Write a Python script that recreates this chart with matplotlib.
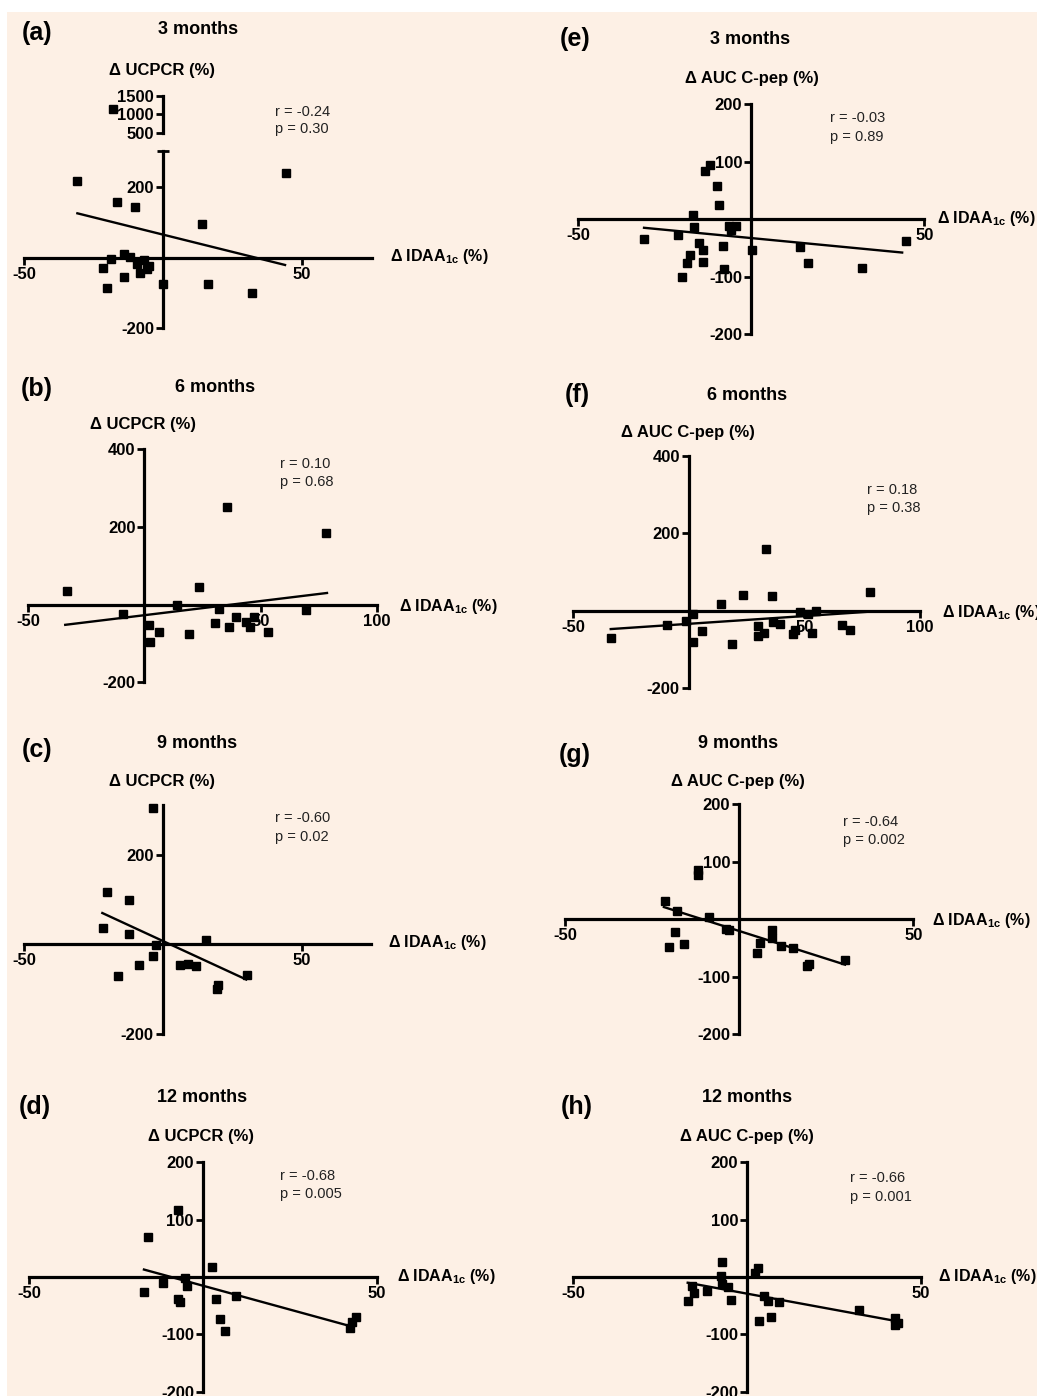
import matplotlib
matplotlib.use('Agg')
import matplotlib.pyplot as plt
from matplotlib.patches import Rectangle
from matplotlib.ticker import FixedLocator

W, H = 1037, 1396
BG = '#FDF0E5'

plt.rcParams['font.family'] = ['Liberation Sans', 'DejaVu Sans']
plt.rcParams['axes.unicode_minus'] = False
plt.rcParams['mathtext.fontset'] = 'custom'
plt.rcParams['mathtext.rm'] = 'Liberation Sans:bold'
plt.rcParams['mathtext.it'] = 'Liberation Sans:bold'
plt.rcParams['mathtext.bf'] = 'Liberation Sans:bold'

# ---------------- data ----------------
# (a) 3 months, UCPCR
a_x = [-30.8, 44.2, -16.4, -10.2, 14.0, -21.5, -18.7, -14.0, -11.9, -9.2, -6.8, -4.9,
       -8.3, -5.9, -14.0, -20.0, -0.1, 16.3, 32.1, -18.0]
a_y = [215, 238, 156, 143, 96, -30, -4, 9, 1, -18, -7, -23,
       -45, -32, -56, -87, -75, -75, -101, 1150]
a_fit_x = [-30.8, 43.9]
a_fit_y = [125, -21]
a_stats = ['r = -0.24', 'p = 0.30']

# (e) 3 months, AUC C-pep
e_x = [-30.9, -21.3, -16.8, -16.5, -15.1, -14.1, -17.7, -18.7, -19.9, -13.9, -13.4, -11.9,
       -10.0, -9.2, -8.3, -7.9, -6.5, -5.8, -4.4, 0.1, 14.1, 16.5, 31.9, 44.6]
e_y = [-35, -27, 7, -13, -42, -54, -62, -77, -100, -74, 84, 94,
       57, 25, -46, -86, -12, -19, -12, -53, -48, -77, -84, -38]
e_fit_x = [-31.0, 43.6]
e_fit_y = [-15, -58]
e_stats = ['r = -0.03', 'p = 0.89']

# (b) 6 months, UCPCR
b_x = [-33.4, -9.3, 1.8, 2.2, 6.1, 14.0, 19.0, 23.6, 30.5, 32.3, 35.5, 36.2,
       39.4, 43.8, 45.3, 47.0, 53.2, 69.5, 78.3]
b_y = [34, -23, -52, -95, -70, -2, -75, 46, -47, -10, 251, -58,
       -32, -45, -58, -32, -70, -13, 184]
b_fit_x = [-34.1, 78.6]
b_fit_y = [-52, 30]
b_stats = ['r = 0.10', 'p = 0.68']

# (f) 6 months, AUC C-pep
f_x = [-33.8, -9.6, -1.4, 1.9, 1.6, 5.8, 13.9, 18.8, 23.5, 30.0, 30.0, 32.6, 33.2,
       36.1, 36.5, 39.4, 44.9, 45.9, 48.1, 51.7, 53.4, 54.9, 66.4, 69.7, 78.4]
f_y = [-69, -37, -26, -8, -81, -52, 17, -86, 40, -39, -66, -57, 161,
       39, -30, -34, -60, -50, -4, -8, -57, 0, -37, -50, 50]
f_fit_x = [-33.8, 78.4]
f_fit_y = [-47, -2]
f_stats = ['r = 0.18', 'p = 0.38']

# (c) 9 months, UCPCR
c_x = [-3.4, -20.2, -12.1, -21.4, -12.1, -2.6, -3.6, -8.7, -16.0, 6.2, 9.2, 11.8,
       15.6, 20.0, 19.4, 30.2]
c_y = [303, 116, 100, 37, 24, -2, -26, -46, -70, -46, -44, -48,
       11, -91, -100, -69]
c_fit_x = [-21.8, 30.0]
c_fit_y = [70, -78]
c_stats = ['r = -0.60', 'p = 0.02']

# (g) 9 months, AUC C-pep
g_x = [-21.3, -17.8, -18.4, -20.1, -15.8, -11.7, -11.7, -8.6, -3.9, -2.8, 5.0, 6.0,
       9.5, 9.3, 12.0, 15.4, 19.6, 20.1, 30.4]
g_y = [31, 15, -23, -48, -43, 86, 77, 4, -17, -19, -59, -42,
       -19, -33, -46, -50, -82, -78, -71]
g_fit_x = [-21.6, 30.4]
g_fit_y = [21, -79]
g_stats = ['r = -0.64', 'p = 0.002']

# (d) 12 months, UCPCR
d_x = [-15.7, -7.1, -17.0, -11.4, -7.1, -6.7, -5.2, -4.5, 2.5, 3.7, 4.8, 6.3,
       9.4, 42.3, 43.0, 44.0]
d_y = [70, 116, -27, -11, -38, -44, -1, -15, 18, -38, -73, -94,
       -34, -89, -78, -69]
d_fit_x = [-17.0, 42.0]
d_fit_y = [13, -85]
d_stats = ['r = -0.68', 'p = 0.005']

# (h) 12 months, AUC C-pep
h_x = [-17.1, -16.0, -15.2, -11.6, -7.2, -7.5, -7.2, -5.4, -4.7, 2.4, 3.2, 3.5,
       4.8, 6.1, 7.0, 9.1, 32.2, 42.5, 42.5, 43.5]
h_y = [-41, -16, -28, -25, 27, 1, -12, -18, -40, 7, 16, -77,
       -34, -41, -70, -44, -57, -71, -84, -81]
h_fit_x = [-17.1, 43.0]
h_fit_y = [-10, -77]
h_stats = ['r = -0.66', 'p = 0.001']

panel_letters = ['(a)', '(b)', '(c)', '(d)', '(e)', '(f)', '(g)', '(h)']
titles = ['3 months', '6 months', '9 months', '12 months']
ylabel_left = '\u0394 UCPCR (%)'
ylabel_right = '\u0394 AUC C-pep (%)'
xlabel = '\u0394 IDAA$_{1c}$ (%)'

# ---------------- figure ----------------
fig = plt.figure(figsize=(W / 100, H / 100), dpi=100)
fig.patches.append(Rectangle((7 / W, 0), 1 - 7 / W, 1 - 12 / H, transform=fig.transFigure,
                             facecolor=BG, edgecolor='none', zorder=-10))


def px_rect(x0, x1, ytop, ybot):
    return [x0 / W, 1 - ybot / H, (x1 - x0) / W, (ybot - ytop) / H]


def ftext(x, y, s, **kw):
    fig.text(x / W, 1 - y / H, s, **kw)


LW_AX = 2.3
TICK_FS = 12


def style_axis(ax, xticks, yticks, show_x=True):
    ax.set_facecolor('none')
    ax.spines['top'].set_visible(False)
    ax.spines['right'].set_visible(False)
    ax.spines['left'].set_position(('data', 0))
    ax.spines['bottom'].set_position(('data', 0))
    ax.spines['left'].set_linewidth(LW_AX)
    ax.spines['bottom'].set_linewidth(LW_AX)
    if not show_x:
        ax.spines['bottom'].set_visible(False)
    ax.set_xticks(xticks)
    ax.set_yticks(yticks)
    ax.tick_params(direction='out', length=5, width=2, labelsize=TICK_FS, pad=1.5,
                   colors='black')
    for lab in ax.get_xticklabels() + ax.get_yticklabels():
        lab.set_fontweight('bold')


def draw_panel(rect, xlim, ylim, xticks, yticks, xs, ys, fx, fy):
    ax = fig.add_axes(px_rect(*rect))
    ax.set_xlim(xlim)
    ax.set_ylim(ylim)
    style_axis(ax, xticks, yticks)
    px = [x for x, y in zip(xs, ys) if ylim[0] <= y <= ylim[1]]
    py = [y for x, y in zip(xs, ys) if ylim[0] <= y <= ylim[1]]
    ax.plot(px, py, 's', ms=6.2, color='black', clip_on=False, zorder=3)
    ax.plot(fx, fy, '-', color='black', lw=1.7, clip_on=False, zorder=2)
    return ax


# (a) lower + upper broken axis
ax_a = draw_panel((24, 371.5, 151.4, 328.3), (-50, 75), (-200, 300), [-50, 50], [-200, 200],
                  a_x, a_y, a_fit_x, a_fit_y)
ax_a.yaxis.set_minor_locator(FixedLocator([300]))
ax_a.tick_params(which='minor', direction='inout', length=9, width=2)
ax_a2 = fig.add_axes(px_rect(24, 371.5, 96, 132.7))
ax_a2.set_xlim(-50, 75)
ax_a2.set_ylim(500, 1500)
style_axis(ax_a2, [], [500, 1000, 1500], show_x=False)
ux = [x for x, y in zip(a_x, a_y) if y > 300]
uy = [y for x, y in zip(a_x, a_y) if y > 300]
ax_a2.plot(ux, uy, 's', ms=6.2, color='black', clip_on=False, zorder=3)

# (e)
draw_panel((578.3, 924.3, 104, 334.3), (-50, 50), (-200, 200), [-50, 50], [-200, -100, 100, 200],
           e_x, e_y, e_fit_x, e_fit_y)
# (b)
draw_panel((28.3, 376.7, 449.3, 682.3), (-50, 100), (-200, 400), [-50, 50, 100], [-200, 200, 400],
           b_x, b_y, b_fit_x, b_fit_y)
# (f)
draw_panel((573.3, 920, 456, 688.3), (-50, 100), (-200, 400), [-50, 50, 100], [-200, 200, 400],
           f_x, f_y, f_fit_x, f_fit_y)
# (c)
draw_panel((24, 371.2, 805.2, 1034.3), (-50, 75), (-200, 310), [-50, 50], [-200, 200],
           c_x, c_y, c_fit_x, c_fit_y)
# (g)
draw_panel((565, 913.3, 804, 1034.3), (-50, 50), (-200, 200), [-50, 50], [-200, -100, 100, 200],
           g_x, g_y, g_fit_x, g_fit_y)
# (d)
draw_panel((29.3, 376.7, 1162.3, 1391.7), (-50, 50), (-200, 200), [-50, 50], [-200, -100, 100, 200],
           d_x, d_y, d_fit_x, d_fit_y)
# (h)
draw_panel((573.3, 921, 1162.3, 1391.7), (-50, 50), (-200, 200), [-50, 50], [-200, -100, 100, 200],
           h_x, h_y, h_fit_x, h_fit_y)

# ---------------- texts ----------------
letter_pos = [(37, 33), (37, 389), (37, 750), (35, 1107),
              (575, 39), (577, 395), (575, 755), (577, 1107)]
for s, (x, y) in zip(panel_letters, letter_pos):
    ftext(x, y, s, ha='center', va='center', fontsize=18, fontweight='bold')

title_pos = [(198, 29), (215, 388), (197, 743), (202, 1097),
             (750, 39), (747, 395), (738, 743), (747, 1097)]
for i, (x, y) in enumerate(title_pos):
    ftext(x, y, titles[i % 4], ha='center', va='center', fontsize=13, fontweight='bold')

ylab_pos = [(162, 71), (143, 425), (162, 781), (201, 1136),
            (752, 78), (688, 433), (738, 781), (747, 1136)]
for i, (x, y) in enumerate(ylab_pos):
    ftext(x, y, ylabel_left if i < 4 else ylabel_right, ha='center', va='center',
          fontsize=12, fontweight='bold')

xlab_pos = [(390, 257), (399, 607), (388, 943), (397, 1276),
            (937, 219), (942, 612), (932, 920), (938, 1276)]
for x, y in xlab_pos:
    ftext(x, y, xlabel, ha='left', va='center', fontsize=11.5, fontweight='bold')

stats = [a_stats, b_stats, c_stats, d_stats, e_stats, f_stats, g_stats, h_stats]
stats_pos = [(275, 112, 129), (280, 464, 482), (275, 818, 837), (280, 1176, 1194),
             (830, 118, 137), (867, 490, 508), (843, 822, 840), (850, 1178, 1197)]
for st, (x, y1, y2) in zip(stats, stats_pos):
    ftext(x, y1, st[0], ha='left', va='center', fontsize=10.5, color='#222222')
    ftext(x, y2, st[1], ha='left', va='center', fontsize=10.5, color='#222222')

fig.savefig('out.png', dpi=100, facecolor='white')
